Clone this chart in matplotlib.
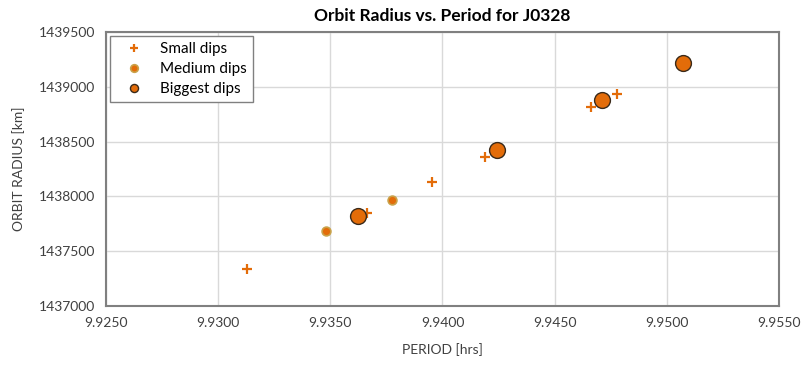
import matplotlib
matplotlib.use("Agg")
import matplotlib.pyplot as plt
from matplotlib.ticker import MultipleLocator, FormatStrFormatter

plt.rcParams['font.family'] = ['Lato', 'DejaVu Sans']

small_period = [9.93127, 9.93662, 9.93951, 9.94188, 9.94660, 9.94776]
small_radius = [1437338, 1437851, 1438131, 1438362, 1438816, 1438934]
medium_period = [9.93480, 9.93773]
medium_radius = [1437687, 1437967]
big_period = [9.93622, 9.94245, 9.94713, 9.95070]
big_radius = [1437824, 1438426, 1438882, 1439220]

orange = '#E36C09'

fig = plt.figure(figsize=(8.11, 3.74), dpi=100)
ax = fig.add_axes([106/811, 68/374, 673/811, 274/374])

ax.scatter(small_period, small_radius, marker='+', s=48, color=orange, linewidths=1.6,
           label='Small dips', zorder=3)
ax.scatter(medium_period, medium_radius, marker='o', s=40, facecolor=orange,
           edgecolor='#C9A24A', linewidths=1.2, label='Medium dips', zorder=3)
ax.scatter(big_period, big_radius, marker='o', s=130, facecolor=orange,
           edgecolor='#3A2A1A', linewidths=1.0, label='Biggest dips', zorder=4)

ax.set_xlim(9.925, 9.955)
ax.set_ylim(1437000, 1439500)
ax.xaxis.set_major_locator(MultipleLocator(0.005))
ax.yaxis.set_major_locator(MultipleLocator(500))
ax.xaxis.set_major_formatter(FormatStrFormatter('%.4f'))
ax.yaxis.set_major_formatter(FormatStrFormatter('%d'))
ax.grid(True, color='#D9D9D9', linewidth=1.0, zorder=0)
ax.set_axisbelow(True)
ax.tick_params(length=0, labelsize=10, colors='#404040', pad=8)
for sp in ax.spines.values():
    sp.set_color('#808080')
    sp.set_linewidth(1.5)

ax.set_title('Orbit Radius vs. Period for J0328', fontsize=12.5, fontweight='bold', pad=8)
ax.set_xlabel('PERIOD [hrs]', fontsize=10, color='#404040', labelpad=10)
ax.set_ylabel('ORBIT RADIUS [km]', fontsize=10, color='#404040', labelpad=10)

leg = ax.legend(loc='upper left', bbox_to_anchor=(0.0, 1.0), fontsize=11, frameon=True,
                fancybox=False, edgecolor='#808080', framealpha=1, borderpad=0.4,
                handletextpad=0.6, handlelength=2.3, labelspacing=0.4, borderaxespad=0.25,
                scatteryoffsets=[0.5])
leg.get_frame().set_linewidth(1.0)
for h, s in zip(leg.legend_handles, [36, 30, 34]):
    h.set_sizes([s])

fig.savefig('out.png', dpi=100)
